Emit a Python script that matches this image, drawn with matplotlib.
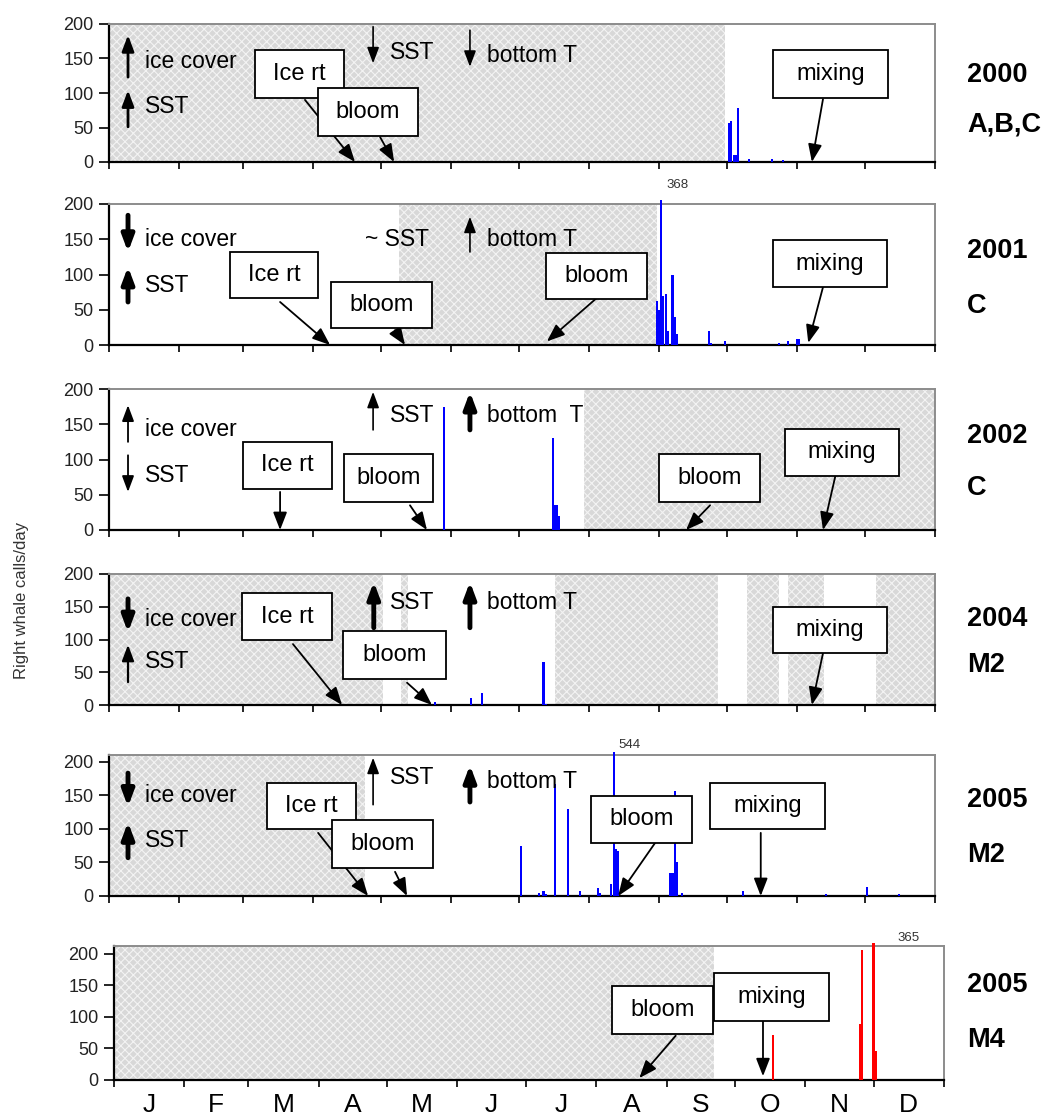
import numpy as np
import matplotlib
matplotlib.use("Agg")
import matplotlib.pyplot as plt
from matplotlib.patches import Rectangle

plt.rcParams["font.family"] = ["Liberation Sans", "DejaVu Sans"]
plt.rcParams["hatch.linewidth"] = 0.8

W, H = 1044, 1120

month_starts = [0, 31, 59, 90, 120, 151, 181, 212, 243, 273, 304, 334, 365]
month_letters = ["J", "F", "M", "A", "M", "J", "J", "A", "S", "O", "N", "D"]

years = ["2000", "2001", "2002", "2004", "2005", "2005"]
sites = ["A,B,C", "C", "C", "M2", "M2", "M4"]

# right whale calls per day (day of year -> calls)
days_2000 = [274, 275, 276, 277, 278, 283, 293, 298]
calls_2000 = [57, 60, 10, 10, 78, 5, 4, 3]

days_2001 = [242, 243, 244, 245, 246, 247, 249, 250, 251, 265, 266, 272, 296, 300, 304, 305]
calls_2001 = [62, 50, 368, 70, 73, 20, 100, 40, 15, 20, 3, 5, 3, 5, 8, 8]

days_2002 = [148, 196, 197, 198, 199]
calls_2002 = [175, 130, 35, 35, 20]

days_2004 = [144, 160, 165, 192, 193]
calls_2004 = [5, 10, 18, 65, 2]

days_2005_m2 = [182, 190, 192, 193, 197, 203, 208, 216, 217, 222, 223, 224, 225,
                248, 249, 250, 251, 253, 280, 317, 335, 349]
calls_2005_m2 = [74, 5, 8, 3, 167, 129, 8, 12, 5, 18, 544, 70, 67,
                 35, 35, 157, 50, 5, 8, 3, 13, 3]

days_2005_m4 = [290, 328, 329, 334, 335]
calls_2005_m4 = [71, 89, 205, 365, 46]

# shaded periods (start day, end day)
shade_2000 = [(0, 272)]
shade_2001 = [(128, 242)]
shade_2002 = [(210, 365)]
shade_2004 = [(0, 121), (129, 132), (197, 269), (282, 296), (300, 316), (339, 365)]
shade_2005_m2 = [(0, 113)]
shade_2005_m4 = [(0, 264)]

panels = [
    dict(days=days_2000, calls=calls_2000, shade=shade_2000, color="blue", ymax=200,
         px=(109, 24, 935, 162), tag=(0.63, 0.27),
         arrows=[(8.4, 123, 184, 2.0), (8.4, 51, 104, 2.0), (116.7, 196, 143, 1.2), (159.5, 191, 138, 1.2)],
         texts=[(16, 145, "ice cover"), (16, 81, "SST"), (124, 158, "SST"), (167, 155, "bottom T")],
         boxes=[("Ice rt", (64.5, 103.8, 93, 162), (86.6, 90), (108.7, 0)),
                ("bloom", (92.4, 136.5, 38, 107), (119.8, 36), (126, 0)),
                ("mixing", (293.4, 344.2, 93, 162), (315.5, 91), (310.6, 0))],
         peak=None),
    dict(days=days_2001, calls=calls_2001, shade=shade_2001, color="blue", ymax=200,
         px=(109, 204, 935, 345), tag=(0.67, 0.28),
         arrows=[(8.4, 184, 132, 3.5), (8.4, 61, 111, 3.5), (159.5, 132, 182, 1.2)],
         texts=[(16, 149, "ice cover"), (16, 85, "SST"), (113, 149, "~ SST"), (167, 149, "bottom T")],
         boxes=[("Ice rt", (53.5, 92.4, 67, 132), (75.6, 61), (97.7, 0)),
                ("bloom", (98, 142.7, 24, 89), (126.4, 21), (130.8, 0)),
                ("bloom", (193, 237.7, 65, 130), (216, 68), (193.5, 5)),
                ("mixing", (293.4, 343.8, 82, 149), (315.5, 82), (309, 3))],
         peak=(246.5, 227, "368")),
    dict(days=days_2002, calls=calls_2002, shade=shade_2002, color="blue", ymax=200,
         px=(109, 389, 935, 530), tag=(0.67, 0.30),
         arrows=[(8.4, 125, 177, 1.3), (8.4, 106, 54, 1.3), (116.7, 142, 196, 1.2), (159.5, 142, 196, 3.5)],
         texts=[(16, 142, "ice cover"), (16, 78, "SST"), (124, 163, "SST"), (167, 163, "bottom  T")],
         boxes=[("Ice rt", (59, 98.5, 58, 125), (75.6, 54), (75.6, 0)),
                ("bloom", (104, 143, 40, 108), (133, 35), (140.5, 0)),
                ("bloom", (243, 287.7, 40, 108), (265.6, 35), (255, 0)),
                ("mixing", (298.7, 349, 77, 143), (321, 77), (315.5, 0))],
         peak=None),
    dict(days=days_2004, calls=calls_2004, shade=shade_2004, color="blue", ymax=200,
         px=(109, 574, 935, 705), tag=(0.66, 0.305),
         arrows=[(8.4, 162, 111, 3.5), (8.4, 35, 92, 1.6), (117, 118, 188, 3.5), (159.5, 118, 188, 3.5)],
         texts=[(16, 130, "ice cover"), (16, 66, "SST"), (124, 156, "SST"), (167, 156, "bottom T")],
         boxes=[("Ice rt", (58.8, 98.5, 99, 171), (81.3, 93), (103, 0)),
                ("bloom", (103.4, 149, 40, 113), (131.7, 34), (142.7, 0)),
                ("mixing", (293.4, 343.8, 79, 150), (315.5, 79), (310.6, 0))],
         peak=None),
    dict(days=days_2005_m2, calls=calls_2005_m2, shade=shade_2005_m2, color="blue", ymax=210,
         px=(109, 755, 935, 896), tag=(0.68, 0.29),
         arrows=[(8.4, 183, 133, 3.5), (8.4, 57, 110, 3.5), (116.7, 136, 206, 1.2), (159.5, 140, 195, 3.5)],
         texts=[(16, 150, "ice cover"), (16, 83, "SST"), (124, 176, "SST"), (167, 170, "bottom T")],
         boxes=[("Ice rt", (70, 109, 100, 168), (92.4, 94), (114.5, 0)),
                ("bloom", (98.5, 143, 42, 113), (126.4, 36), (131.7, 0)),
                ("bloom", (213, 257.6, 79, 149), (241.3, 79), (225, 0)),
                ("mixing", (265.6, 316.4, 100, 168), (288, 94), (288, 0))],
         peak=(225, 225, "544")),
    dict(days=days_2005_m4, calls=calls_2005_m4, shade=shade_2005_m4, color="red", ymax=212,
         px=(114, 946, 944, 1080), tag=(0.71, 0.30),
         arrows=[], texts=[],
         boxes=[("bloom", (219, 263.4, 73, 149), (247, 70), (231, 3)),
                ("mixing", (264, 314.4, 93, 169), (285.4, 93), (285.4, 6))],
         peak=(344.5, 225, "365")),
]

fig = plt.figure(figsize=(W / 100, H / 100), dpi=100)

for i, p in enumerate(panels):
    x0, ytop, x1, ybot = p["px"]
    ax = fig.add_axes([x0 / W, 1 - ybot / H, (x1 - x0) / W, (ybot - ytop) / H])
    ax.set_xlim(0, 365)
    ax.set_ylim(0, p["ymax"])

    for a, b in p["shade"]:
        ax.axvspan(a, b, facecolor="#d8d8d8", edgecolor="#f3f3f3", hatch="xxxx",
                   linewidth=0, zorder=1)

    shown = np.minimum(p["calls"], p["ymax"] + 5)
    ax.bar(p["days"], shown, width=0.9, color=p["color"], linewidth=0,
           zorder=3, clip_on=False)

    for x, yt, yh, lw in p["arrows"]:
        ax.annotate("", xy=(x, yh), xytext=(x, yt),
                    arrowprops=dict(arrowstyle="-|>,head_length=0.8,head_width=0.3",
                                    mutation_scale=12, lw=lw, color="black",
                                    shrinkA=0, shrinkB=0), zorder=4)
    for x, y, s in p["texts"]:
        ax.text(x, y, s, fontsize=16.5, va="center", ha="left", zorder=4)

    for k, (label, (bx0, bx1, by0, by1), tail, head) in enumerate(p["boxes"]):
        z = 6 + 3 * k
        ax.annotate("", xy=head, xytext=tail,
                    arrowprops=dict(arrowstyle="-|>,head_length=0.9,head_width=0.35",
                                    mutation_scale=12, lw=1.3, color="black",
                                    shrinkA=0, shrinkB=0), zorder=z)
        ax.add_patch(Rectangle((bx0, by0), bx1 - bx0, by1 - by0, facecolor="white",
                               edgecolor="black", linewidth=1.3, zorder=z + 1))
        ax.text((bx0 + bx1) / 2, (by0 + by1) / 2, label, fontsize=17,
                ha="center", va="center", zorder=z + 2)

    if p["peak"] is not None:
        px_, py_, s = p["peak"]
        ax.text(px_, py_, s, fontsize=9.5, color="#333333", ha="left", va="center")

    ax.set_xticks(month_starts)
    ax.set_xticklabels([])
    ax.set_yticks([0, 50, 100, 150, 200])
    ax.tick_params(axis="x", direction="out", length=5, width=1.2, color="black")
    ax.tick_params(axis="y", direction="out", length=7, width=1.2, color="black",
                   labelsize=13, labelcolor="#222222", pad=4)
    for side in ["left", "bottom"]:
        ax.spines[side].set_color("black")
        ax.spines[side].set_linewidth(1.6)
    for side in ["top", "right"]:
        ax.spines[side].set_color("#8c8c8c")
        ax.spines[side].set_linewidth(1.4)

    ty, sy = p["tag"]
    xlab = (967 - x0) / (x1 - x0)
    ax.text(xlab, ty, years[i], transform=ax.transAxes, fontsize=19.5,
            fontweight="bold", ha="left", va="center")
    ax.text(xlab, sy, sites[i], transform=ax.transAxes, fontsize=19.5,
            fontweight="bold", ha="left", va="center")

    if i == len(panels) - 1:
        mids = [(a + b) / 2 for a, b in zip(month_starts[:-1], month_starts[1:])]
        ax.set_xticks(mids, minor=True)
        ax.set_xticklabels(month_letters, minor=True, fontsize=19)
        ax.tick_params(axis="x", which="minor", length=0, pad=9)

fig.text(22 / W, 1 - 600 / H, "Right whale calls/day", rotation=90,
         ha="center", va="center", fontsize=12, color="#333333")

fig.savefig("out.png", dpi=100)
